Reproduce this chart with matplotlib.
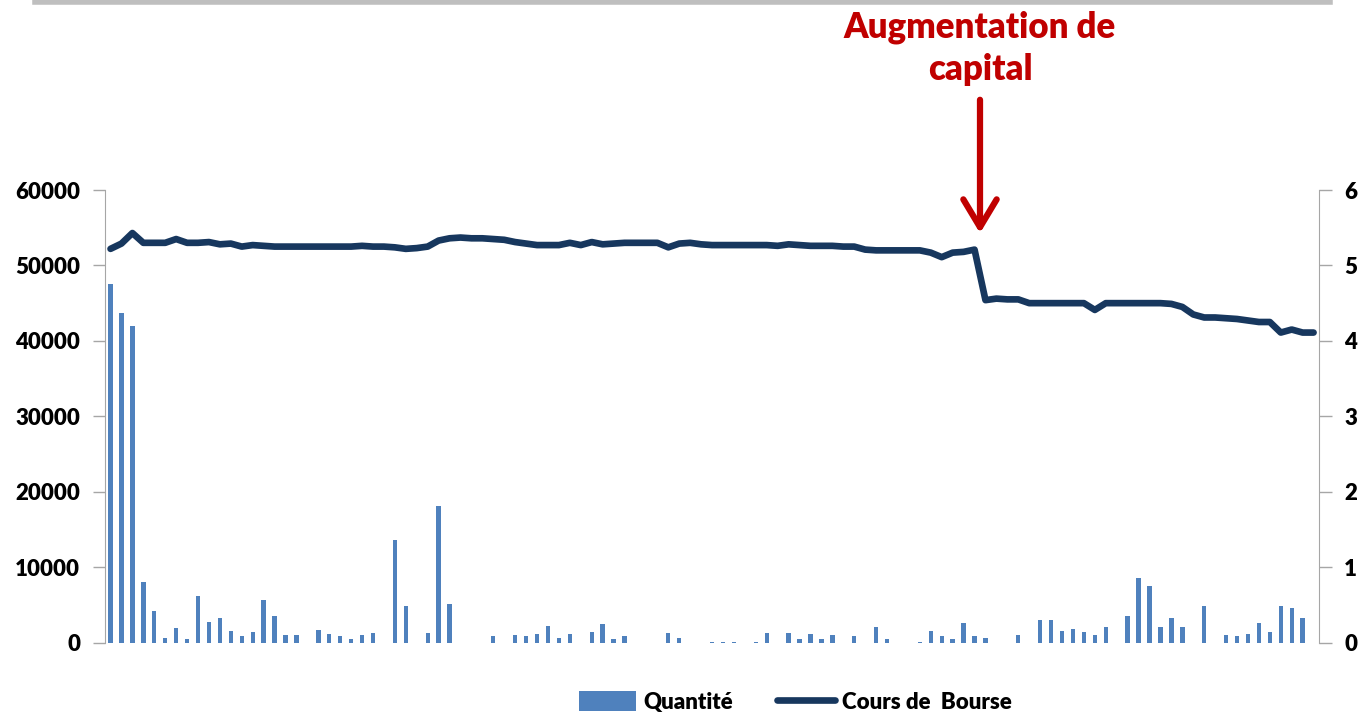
import numpy as np
import matplotlib
matplotlib.use('Agg')
import matplotlib.pyplot as plt

plt.rcParams['font.family'] = ['Lato', 'DejaVu Sans']
plt.rcParams['font.weight'] = 'bold'

#%% Data
quantite = [47500, 43700, 42000, 8000, 4200, 660, 1860, 490, 6190, 2780,
            3270, 1550, 800, 1410, 5610, 3580, 1060, 930, 0, 1720,
            1100, 800, 490, 930, 1240, 0, 13600, 4820, 0, 1280,
            18100, 5130, 0, 0, 0, 840, 0, 970, 840, 1100,
            2210, 660, 1100, 0, 1410, 2520, 490, 840, 0, 0,
            0, 1280, 660, 0, 0, 60, 60, 60, 0, 60,
            1280, 0, 1280, 490, 1100, 490, 970, 0, 840, 0,
            2030, 490, 0, 0, 60, 1590, 840, 490, 2650, 840,
            660, 0, 0, 970, 0, 3010, 3010, 1590, 1770, 1410,
            970, 2030, 0, 3450, 8530, 7470, 2030, 3270, 2030, 0,
            4820, 0, 970, 800, 1100, 2650, 1410, 4820, 4640, 3270,
            0]

cours = [5.22, 5.29, 5.43, 5.30, 5.30, 5.30, 5.35, 5.30, 5.30, 5.31,
         5.28, 5.29, 5.25, 5.27, 5.26, 5.25, 5.25, 5.25, 5.25, 5.25,
         5.25, 5.25, 5.25, 5.26, 5.25, 5.25, 5.24, 5.22, 5.23, 5.25,
         5.33, 5.36, 5.37, 5.36, 5.36, 5.35, 5.34, 5.31, 5.29, 5.27,
         5.27, 5.27, 5.30, 5.27, 5.31, 5.28, 5.29, 5.30, 5.30, 5.30,
         5.30, 5.24, 5.29, 5.30, 5.28, 5.27, 5.27, 5.27, 5.27, 5.27,
         5.27, 5.26, 5.28, 5.27, 5.26, 5.26, 5.26, 5.25, 5.25, 5.21,
         5.20, 5.20, 5.20, 5.20, 5.20, 5.17, 5.11, 5.17, 5.18, 5.21,
         4.54, 4.56, 4.55, 4.55, 4.50, 4.50, 4.50, 4.50, 4.50, 4.50,
         4.41, 4.50, 4.50, 4.50, 4.50, 4.50, 4.50, 4.49, 4.45, 4.35,
         4.31, 4.31, 4.30, 4.29, 4.27, 4.25, 4.25, 4.11, 4.15, 4.11,
         4.11]

left_ticks = [0, 10000, 20000, 30000, 40000, 50000, 60000]
right_ticks = [0, 1, 2, 3, 4, 5, 6]

bar_col = '#4F81BD'
line_col = '#17375E'
red = '#C00000'
grey = '#A6A6A6'

#%% Plot
x = np.arange(len(quantite))

fig = plt.figure(figsize=(13.59, 7.12), dpi=100)
ax = fig.add_axes([0.0773, 0.0976, 0.8933, 0.6355])
ax2 = ax.twinx()

b = ax.bar(x, quantite, width=0.4, color=bar_col, label='Quantité', zorder=2)
l, = ax2.plot(x, cours, color=line_col, linewidth=4.8, solid_capstyle='round',
              solid_joinstyle='round', label='Cours de  Bourse', zorder=3)

ax.set_xlim(-0.5, len(quantite) - 0.5)
ax.set_ylim(0, 60000)
ax2.set_ylim(0, 6)
ax.set_yticks(left_ticks)
ax2.set_yticks(right_ticks)
ax.set_xticks([])

for a in (ax, ax2):
    for s in ['top', 'bottom']:
        a.spines[s].set_visible(False)
    a.tick_params(axis='y', length=9, width=1, color=grey, labelsize=16,
                  labelcolor='black', pad=9)
ax.spines['left'].set_color(grey)
ax.spines['right'].set_visible(False)
ax2.spines['left'].set_visible(False)
ax2.spines['right'].set_color(grey)
for lab in ax.get_yticklabels() + ax2.get_yticklabels():
    lab.set_fontweight('heavy')

# grey line along the top
fig.add_artist(plt.Line2D([35 / 1359, 1330 / 1359], [0.9965, 0.9965],
                          color='#BFBFBF', linewidth=4, transform=fig.transFigure))

# annotation
fig.text(980 / 1359, 1 - 27 / 712, 'Augmentation de', color=red, fontsize=25,
         fontweight='heavy', ha='center', va='center')
fig.text(980 / 1359, 1 - 70 / 712, 'capital', color=red, fontsize=25,
         fontweight='heavy', ha='center', va='center')
fig.add_artist(matplotlib.patches.FancyArrowPatch(
    (980 / 1359, 1 - 97 / 712), (980 / 1359, 1 - 236 / 712),
    transform=fig.transFigure, arrowstyle='->,head_length=10,head_width=6',
    color=red, linewidth=4.5, mutation_scale=2.0))

fig.legend([b, l], ['Quantité', 'Cours de  Bourse'], loc='center',
           bbox_to_anchor=(795 / 1359, 1 - 702 / 712), ncol=2, frameon=False,
           prop={'size': 16, 'weight': 'heavy'}, handlelength=2.6,
           handleheight=1.0, handletextpad=0.3, columnspacing=2.0)

plt.savefig('out.png', dpi=100)
